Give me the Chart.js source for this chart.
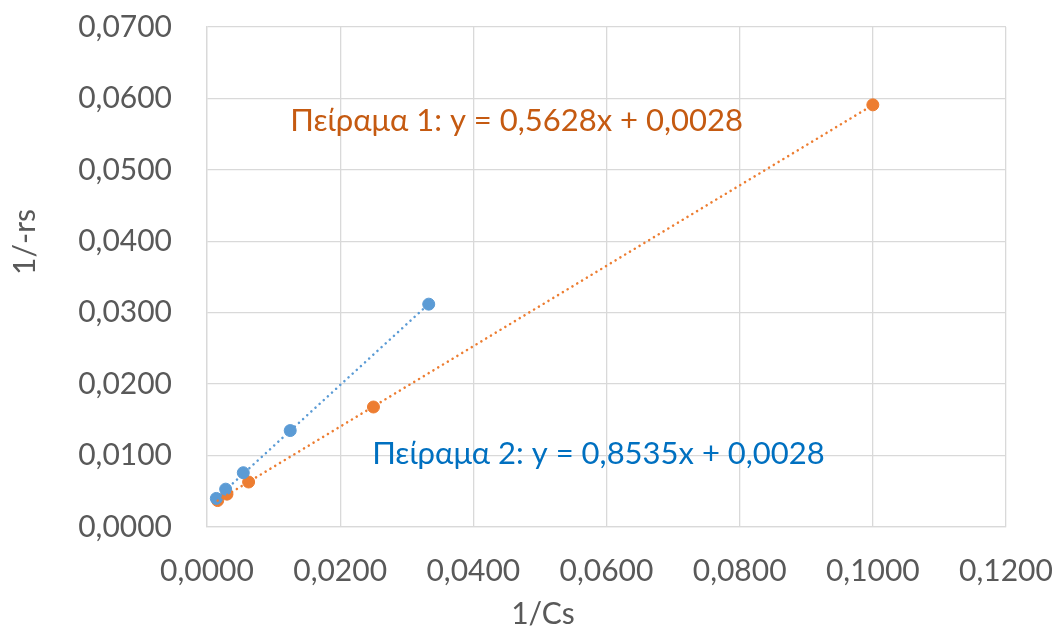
<!DOCTYPE html>
<html>
<head>
<meta charset="utf-8">
<script src="https://cdn.jsdelivr.net/npm/chart.js@4/dist/chart.umd.min.js"></script>
<style>
  html, body { margin: 0; padding: 0; background: #ffffff; }
  #wrap { width: 1059px; height: 632px; }
</style>
</head>
<body>
<div id="wrap"><canvas id="c" width="1059" height="632"></canvas></div>
<script>
// Experiment 1 (orange) and Experiment 2 (blue): 1/Cs vs 1/-rs
const exp1X = [0.1000, 0.0250, 0.00625, 0.0030, 0.0016];
const exp1Y = [0.0591, 0.0168, 0.0063, 0.0046, 0.0037];
const exp2X = [0.0333, 0.0125, 0.00545, 0.0028, 0.0014];
const exp2Y = [0.0312, 0.0135, 0.0076, 0.0053, 0.0040];

// Linear fits shown on the chart
const fit1 = { slope: 0.5628, intercept: 0.0028, label: 'Πείραμα 1: y = 0,5628x + 0,0028' };
const fit2 = { slope: 0.8535, intercept: 0.0028, label: 'Πείραμα 2: y = 0,8535x + 0,0028' };

const xTicks = { min: 0, max: 0.12, step: 0.02 };
const yTicks = { min: 0, max: 0.07, step: 0.01 };
const xTitle = '1/Cs';
const yTitle = '1/-rs';

const FONT = "Lato, 'Open Sans', 'Liberation Sans', sans-serif";
const SIZE = 30;
const EQ_SIZE = 31;
const TXT = '#595959';
const BLUE = '#5B9BD5';
const ORANGE = '#ED7D31';

function pts(xs, ys) { return xs.map((x, i) => ({ x: x, y: ys[i] })); }
function fitLine(xs, f) {
  const lo = Math.min(...xs), hi = Math.max(...xs);
  return [lo, hi].map(x => ({ x: x, y: f.slope * x + f.intercept }));
}
function fmt(v) { return v.toFixed(4).replace('.', ','); }

// Axis titles and trendline equations
const annotations = {
  id: 'annotations',
  afterDatasetsDraw(chart) {
    const { ctx, scales } = chart;
    ctx.save();
    ctx.textBaseline = 'middle';

    ctx.font = EQ_SIZE + 'px ' + FONT;
    ctx.textAlign = 'left';
    ctx.fillStyle = '#C55A11';
    ctx.fillText(fit1.label, scales.x.getPixelForValue(0.0125), scales.y.getPixelForValue(0.0568));
    ctx.fillStyle = '#0070C0';
    ctx.fillText(fit2.label, scales.x.getPixelForValue(0.0248), scales.y.getPixelForValue(0.0102));

    ctx.font = SIZE + 'px ' + FONT;
    ctx.fillStyle = TXT;
    ctx.textAlign = 'center';
    ctx.fillText(xTitle, 543, 614);
    ctx.translate(25, 242);
    ctx.rotate(-Math.PI / 2);
    ctx.fillText(yTitle, 0, 0);
    ctx.restore();
  }
};

new Chart(document.getElementById('c'), {
  type: 'scatter',
  data: {
    datasets: [
      { label: 'fit2', data: fitLine(exp2X, fit2), showLine: true, borderColor: BLUE, borderWidth: 2.5,
        borderDash: [0.1, 5.5], borderCapStyle: 'round', pointRadius: 0, fill: false },
      { label: 'fit1', data: fitLine(exp1X, fit1), showLine: true, borderColor: ORANGE, borderWidth: 2.5,
        borderDash: [0.1, 5.5], borderCapStyle: 'round', pointRadius: 0, fill: false },
      { label: 'Πείραμα 2', data: pts(exp2X, exp2Y), backgroundColor: BLUE, borderColor: BLUE, pointRadius: 6 },
      { label: 'Πείραμα 1', data: pts(exp1X, exp1Y), backgroundColor: ORANGE, borderColor: ORANGE, pointRadius: 6 }
    ]
  },
  options: {
    responsive: false,
    animation: false,
    layout: { padding: 0 },
    plugins: { legend: { display: false }, tooltip: { enabled: false } },
    scales: {
      x: {
        type: 'linear', min: xTicks.min, max: xTicks.max,
        ticks: { stepSize: xTicks.step, color: TXT, font: { family: FONT, size: SIZE }, padding: 26,
                 maxRotation: 0, minRotation: 0, callback: v => fmt(v) },
        grid: { color: '#D9D9D9', lineWidth: 1.3, drawTicks: false },
        border: { color: '#D9D9D9', width: 1.3 },
        afterFit(s) { s.height = 632 - 527; s.paddingLeft = 0; s.paddingRight = 1059 - 1006; }
      },
      y: {
        type: 'linear', min: yTicks.min, max: yTicks.max,
        ticks: { stepSize: yTicks.step, color: TXT, font: { family: FONT, size: SIZE }, padding: 35, callback: v => fmt(v) },
        grid: { color: '#D9D9D9', lineWidth: 1.3, drawTicks: false },
        border: { color: '#D9D9D9', width: 1.3 },
        afterFit(s) { s.width = 207; s.paddingTop = 27; s.paddingBottom = 0; }
      }
    }
  },
  plugins: [annotations]
});
</script>
</body>
</html>
